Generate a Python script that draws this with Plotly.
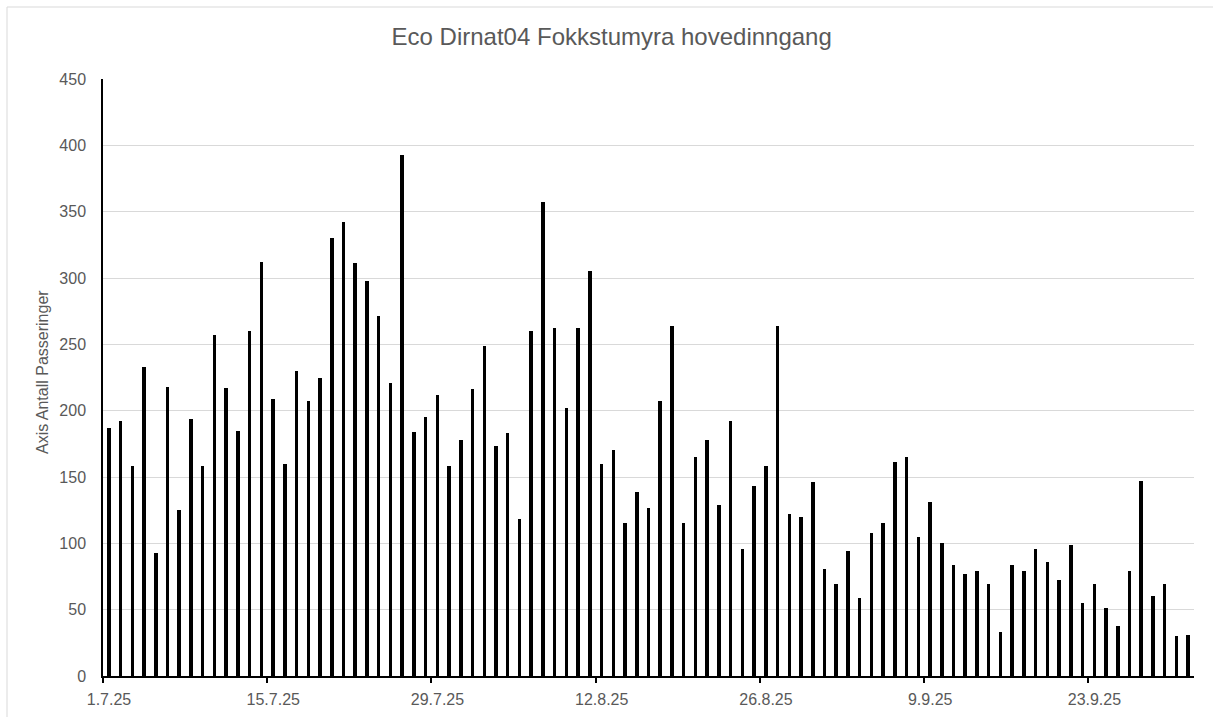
import pandas as pd
import plotly.graph_objects as go

TITLE = "Eco Dirnat04 Fokkstumyra hovedinngang"
Y_TITLE = "Axis Antall Passeringer"
START_DATE = "2025-07-01"

PASSERINGER = [
    187, 192, 158, 233, 93, 218, 125, 194, 158, 257,
    217, 185, 260, 312, 209, 160, 230, 207, 225, 330,
    342, 311, 298, 271, 221, 393, 184, 195, 212, 158,
    178, 216, 249, 173, 183, 118, 260, 357, 262, 202,
    262, 305, 160, 170, 115, 139, 127, 207, 264, 115,
    165, 178, 129, 192, 96, 143, 158, 264, 122, 120,
    146, 81, 69, 94, 59, 108, 115, 161, 165, 105,
    131, 100, 84, 77, 79, 69, 33, 84, 79, 96,
    86, 72, 99, 55, 69, 51, 38, 79, 147, 60,
    69, 30, 31,
]
TICK_DATES = ["2025-07-01", "2025-07-15", "2025-07-29", "2025-08-12",
              "2025-08-26", "2025-09-09", "2025-09-23"]
TICK_LABELS = ["1.7.25", "15.7.25", "29.7.25", "12.8.25", "26.8.25", "9.9.25", "23.9.25"]
Y_MAX = 450
Y_STEP = 50

dates = pd.date_range(START_DATE, periods=len(PASSERINGER), freq="D")
half_day = pd.Timedelta(hours=12)
tick_pos = [pd.Timestamp(d) - half_day for d in TICK_DATES]
x_start = dates[0] - half_day
x_end = dates[-1] + half_day

TXT = "#595959"
FONT = "Liberation Sans, Arial, sans-serif"

fig = go.Figure()
fig.add_trace(go.Bar(
    x=dates, y=PASSERINGER,
    marker=dict(color="#000000", line=dict(width=0)),
    width=0.3 * 86400000,
))

plot_l, plot_r, plot_t, plot_b = 103, 1194, 79, 676
pw, ph = plot_r - plot_l, plot_b - plot_t
def px2x(px):
    return (px - plot_l) / pw
def py2y(py):
    return (plot_b - py) / ph

# Light chart-area border
fig.add_shape(type="rect", xref="paper", yref="paper",
              x0=px2x(7), x1=px2x(1230), y0=py2y(740), y1=py2y(7),
              line=dict(color="#d9d9d9", width=1), fillcolor="rgba(0,0,0,0)", layer="below")

# Y axis title placed manually
fig.add_annotation(text=Y_TITLE, xref="paper", yref="paper",
                   x=px2x(42), y=py2y(372), xanchor="center", yanchor="middle",
                   textangle=-90, showarrow=False,
                   font=dict(size=16, color=TXT, family=FONT))

fig.update_layout(
    width=1213, height=717,
    margin=dict(l=plot_l, r=1213 - plot_r, t=plot_t, b=717 - plot_b, autoexpand=False),
    paper_bgcolor="white", plot_bgcolor="white",
    showlegend=False,
    font=dict(family=FONT, color=TXT, size=16),
    title=dict(text=TITLE, x=611.7 / 1213, xanchor="center", xref="container",
               y=1 - 37 / 717, yanchor="middle", yref="container",
               font=dict(size=24, color=TXT, family=FONT)),
    bargap=0,
)
fig.update_xaxes(
    type="date", range=[x_start, x_end], automargin=False,
    tickvals=tick_pos, ticktext=TICK_LABELS,
    ticks="outside", ticklen=5, tickcolor="#000000", tickwidth=1.5,
    ticklabelshift=6, ticklabelstandoff=3,
    showline=True, linecolor="#000000", linewidth=1.5,
    showgrid=False, zeroline=False,
    tickfont=dict(size=16, color=TXT),
)
fig.update_yaxes(
    range=[0, Y_MAX], dtick=Y_STEP, tick0=0, automargin=False,
    showline=True, linecolor="#000000", linewidth=1.5,
    showgrid=True, gridcolor="#d9d9d9", gridwidth=1,
    zeroline=False, ticks="", ticklabelstandoff=12,
    tickfont=dict(size=16, color=TXT),
)

fig.write_html("out.html", config={"displayModeBar": False},
               post_script="document.body.style.margin='0';")
